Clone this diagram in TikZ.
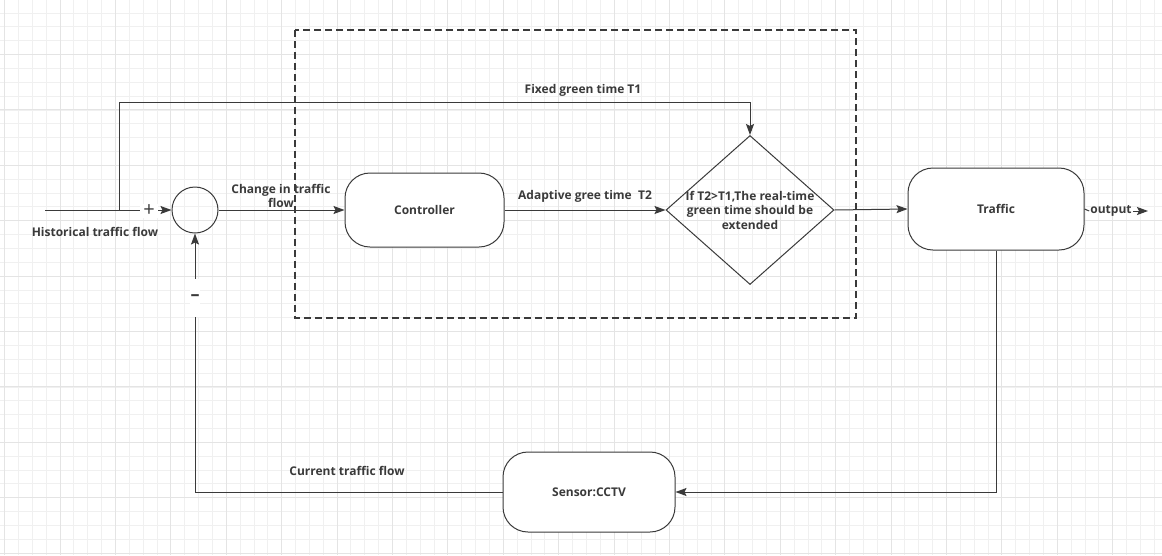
\documentclass[tikz,border=0pt]{standalone}
\usepackage{fontspec}
\setmainfont{Open Sans}
\usetikzlibrary{arrows.meta,shapes.geometric}
\definecolor{ink}{HTML}{3A3A3A}
\definecolor{gminor}{HTML}{F0F0F0}
\definecolor{gmajor}{HTML}{E4E4E4}
\newcommand{\lblfont}{\fontsize{12}{14.5}\selectfont\bfseries}
\tikzset{
  ln/.style={draw=ink, line width=1pt},
  arr/.style={ln, -{Stealth[length=11pt,width=8pt,inset=2pt]}},
  term/.style={draw=ink, line width=1pt, rounded corners=25pt, align=center, font=\lblfont, text=ink, fill=white},
  lbl/.style={font=\lblfont, text=ink, align=center, inner sep=1pt},
  dbox/.style={draw=ink, line width=1.2pt, dash pattern=on 7pt off 4pt}
}
\begin{document}
\begin{tikzpicture}[x=1pt,y=-1pt]
\useasboundingbox (0,0) rectangle (1162,555);
\fill[white] (0,0) rectangle (1162,555);
% background grid
\foreach \i in {0,...,84} {\draw[gminor, line width=0.6pt] ({4.5+13.85*\i},0) -- ({4.5+13.85*\i},555);}
\foreach \i in {0,...,40} {\draw[gminor, line width=0.6pt] (0,{-1+13.85*\i}) -- (1162,{-1+13.85*\i});}
\foreach \i in {0,...,21} {\draw[gmajor, line width=0.7pt] ({4.5+55.4*\i},0) -- ({4.5+55.4*\i},555);}
\foreach \i in {0,...,10} {\draw[gmajor, line width=0.7pt] (0,{-1+55.4*\i}) -- (1162,{-1+55.4*\i});}

% dashed frame
\draw[dbox] (295,30) rectangle (856,318);

% nodes
\node[draw=ink, line width=1pt, circle, minimum size=46pt, inner sep=0pt] (sum) at (195,210) {};
\node[term, minimum width=159pt, minimum height=74pt] (ctrl) at (424.5,210) {Controller};
\node[draw=ink, line width=1pt, diamond, minimum width=168pt, minimum height=149pt, inner sep=0pt] (dec) at (750,210) {};
\node[lbl] (dectext) at (750,210) {If T2>T1,The real-time\\green time should be\\extended};
\node[term, minimum width=176pt, minimum height=82pt] (traffic) at (996,209) {Traffic};
\node[term, minimum width=172pt, minimum height=80pt] (sensor) at (589,492) {Sensor:CCTV};

% coordinates
\coordinate (hstart) at (45,210);
\coordinate (split) at (119,210);
\coordinate (tl) at (119,102);
\node[lbl] (outtxt) at (1111,211) {output};
\coordinate (outend) at (1148,211);

% connectors
\draw[ln] (hstart) -- (split);
\draw[arr] (split) -- (sum.west);
\draw[arr] (split) -- (tl) -| (dec.north);
\draw[arr] (sum.east) -- (ctrl.west);
\draw[arr] (ctrl.east) -- (dec.west);
\draw[arr] (dec.east) -- (traffic.west);
\draw[ln] (traffic.east) -- (outtxt.west);
\draw[arr] (outtxt.east) -- (outend);
\draw[arr] (traffic.south) |- (sensor.east);
\draw[arr] (sensor.west) -| (sum.south);

% labels
\node[lbl] (lhist) at (95,232) {Historical traffic flow};
\node[fill=white, text=ink, inner sep=0pt, minimum width=18pt, minimum height=14pt, font=\fontsize{20}{20}\selectfont] (plus) at (149,211) {+};
\node[fill=white, text=ink, inner sep=0pt, minimum width=10pt, minimum height=38pt, font=\fontsize{18}{18}\selectfont\bfseries] (minus) at (195,298) {–};
\node[lbl] (lchange) at (281,196) {Change in traffic\\flow};
\node[lbl] (ladapt) at (585,196) {Adaptive gree time\ \ T2};
\node[lbl] (lfixed) at (583,90) {Fixed green time T1};
\node[lbl] (lcur) at (347,471) {Current traffic flow};
\end{tikzpicture}
\end{document}
